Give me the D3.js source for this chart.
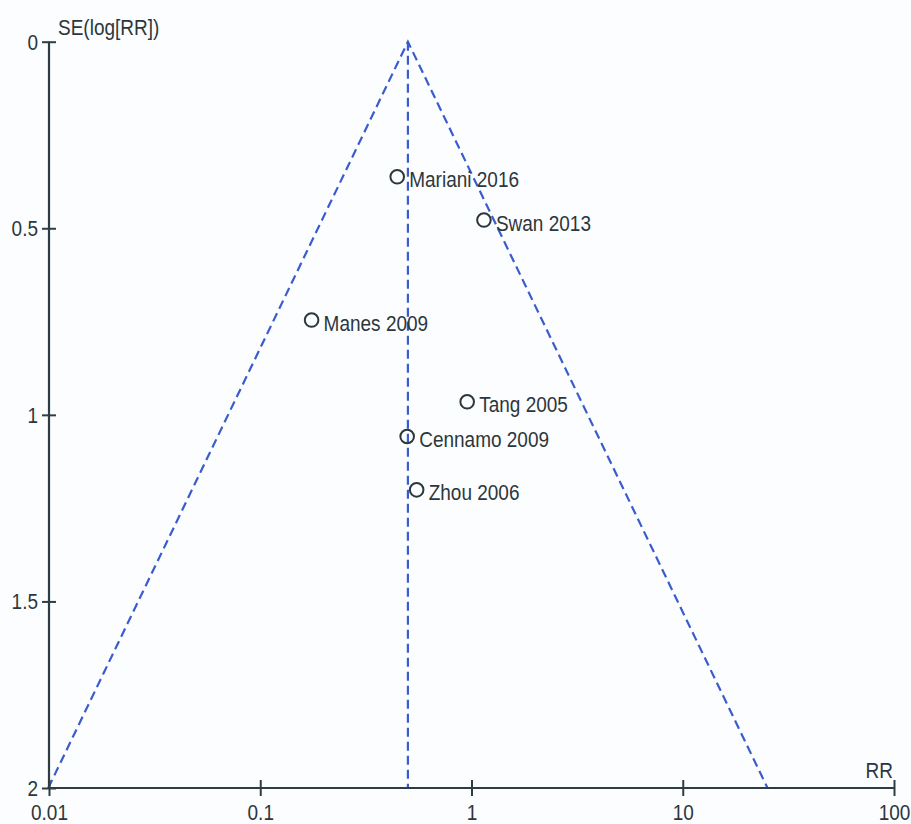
<!DOCTYPE html>
<html>
<head>
<meta charset="utf-8">
<script src="https://cdn.jsdelivr.net/npm/d3@7"></script>
<style>
  html, body { margin: 0; padding: 0; background: #fcfdff; }
  svg { display: block; }
  text { font-family: Arial, "Liberation Sans", sans-serif; fill: #2c373c; }
</style>
</head>
<body>
<svg id="chart" width="911" height="824"></svg>
<script>
// Study estimates: risk ratio and standard error of log(RR)
const studies = ["Mariani 2016", "Swan 2013", "Manes 2009", "Tang 2005", "Cennamo 2009", "Zhou 2006"];
const rr      = [0.445, 1.145, 0.175, 0.954, 0.496, 0.55];
const seLogRR = [0.362, 0.478, 0.746, 0.965, 1.058, 1.201];

// Pooled estimate and axis ticks
const pooledRR = 0.5;
const xTicks = [0.01, 0.1, 1, 10, 100];
const xTickLabels = ["0.01", "0.1", "1", "10", "100"];
const yTicks = [0, 0.5, 1, 1.5, 2];
const yTickLabels = ["0", "0.5", "1", "1.5", "2"];

const svg = d3.select("#chart");
const axisColor = "#2e3d43";
const funnelColor = "#3a5ccc";
const fontSize = 19;
const stretchY = 1.15;   // tall, narrow lettering

// Place a text with its baseline at (px, py), stretched vertically
function label(parent, px, py, str, anchor) {
  return parent.append("text")
    .attr("transform", `translate(${px},${py}) scale(1,${stretchY})`)
    .attr("text-anchor", anchor || "start")
    .attr("font-size", fontSize)
    .text(str);
}

const x = d3.scaleLog().domain([0.01, 100]).range([49, 894]);
const y = d3.scaleLinear().domain([0, 2]).range([41.7, 788]);

// Funnel: 95% pseudo-confidence limits around the pooled estimate
const seMax = 2;
const lo = Math.exp(Math.log(pooledRR) - 1.96 * seMax);
const hi = Math.exp(Math.log(pooledRR) + 1.96 * seMax);
const funnel = svg.append("g")
  .attr("fill", "none")
  .attr("stroke", funnelColor)
  .attr("stroke-width", 2.2)
  .attr("stroke-dasharray", "9,5");
funnel.append("path")
  .attr("d", d3.line()([[x(lo), y(seMax)], [x(pooledRR), y(0)], [x(hi), y(seMax)]]));
funnel.append("line")
  .attr("x1", x(pooledRR)).attr("x2", x(pooledRR))
  .attr("y1", y(0)).attr("y2", y(seMax));

// Y axis
const yAxis = svg.append("g")
  .attr("transform", `translate(${x(0.01)},0)`)
  .call(d3.axisLeft(y).tickValues(yTicks).tickFormat((d, i) => yTickLabels[i]).tickSize(7));
yAxis.select(".domain").remove();
yAxis.selectAll(".tick line").attr("x1", -7).attr("x2", 7).attr("stroke", axisColor).attr("stroke-width", 2);
yAxis.selectAll(".tick text").remove();
yAxis.selectAll(".tick").each(function (d, i) {
  label(d3.select(this), -11, 7.5, yTickLabels[i], "end");
});
yAxis.append("line")
  .attr("x1", 0).attr("x2", 0)
  .attr("y1", y(0)).attr("y2", y(2))
  .attr("stroke", axisColor).attr("stroke-width", 2.2);

// X axis
const xAxis = svg.append("g")
  .attr("transform", `translate(0,${y(2)})`)
  .call(d3.axisBottom(x).tickValues(xTicks).tickFormat((d, i) => xTickLabels[i]).tickSize(8));
xAxis.select(".domain").remove();
xAxis.selectAll(".tick line").attr("y1", -8).attr("y2", 8).attr("stroke", axisColor).attr("stroke-width", 2);
xAxis.selectAll(".tick text").remove();
xAxis.selectAll(".tick").each(function (d, i) {
  label(d3.select(this), 0, 32, xTickLabels[i], "middle");
});
xAxis.append("line")
  .attr("x1", x(0.01)).attr("x2", x(100))
  .attr("y1", 0).attr("y2", 0)
  .attr("stroke", axisColor).attr("stroke-width", 2.2);

// Axis titles
label(svg, 58, 35, "SE(log[RR])");
label(svg, 893, 778, "RR", "end");

// Study points and labels
const pts = svg.append("g");
studies.forEach((name, i) => {
  const cx = x(rr[i]), cy = y(seLogRR[i]);
  pts.append("circle")
    .attr("cx", cx).attr("cy", cy).attr("r", 6.8)
    .attr("fill", "none")
    .attr("stroke", "#2c373c")
    .attr("stroke-width", 2);
  label(pts, cx + 12, cy + 10.5, name);
});
</script>
</body>
</html>
